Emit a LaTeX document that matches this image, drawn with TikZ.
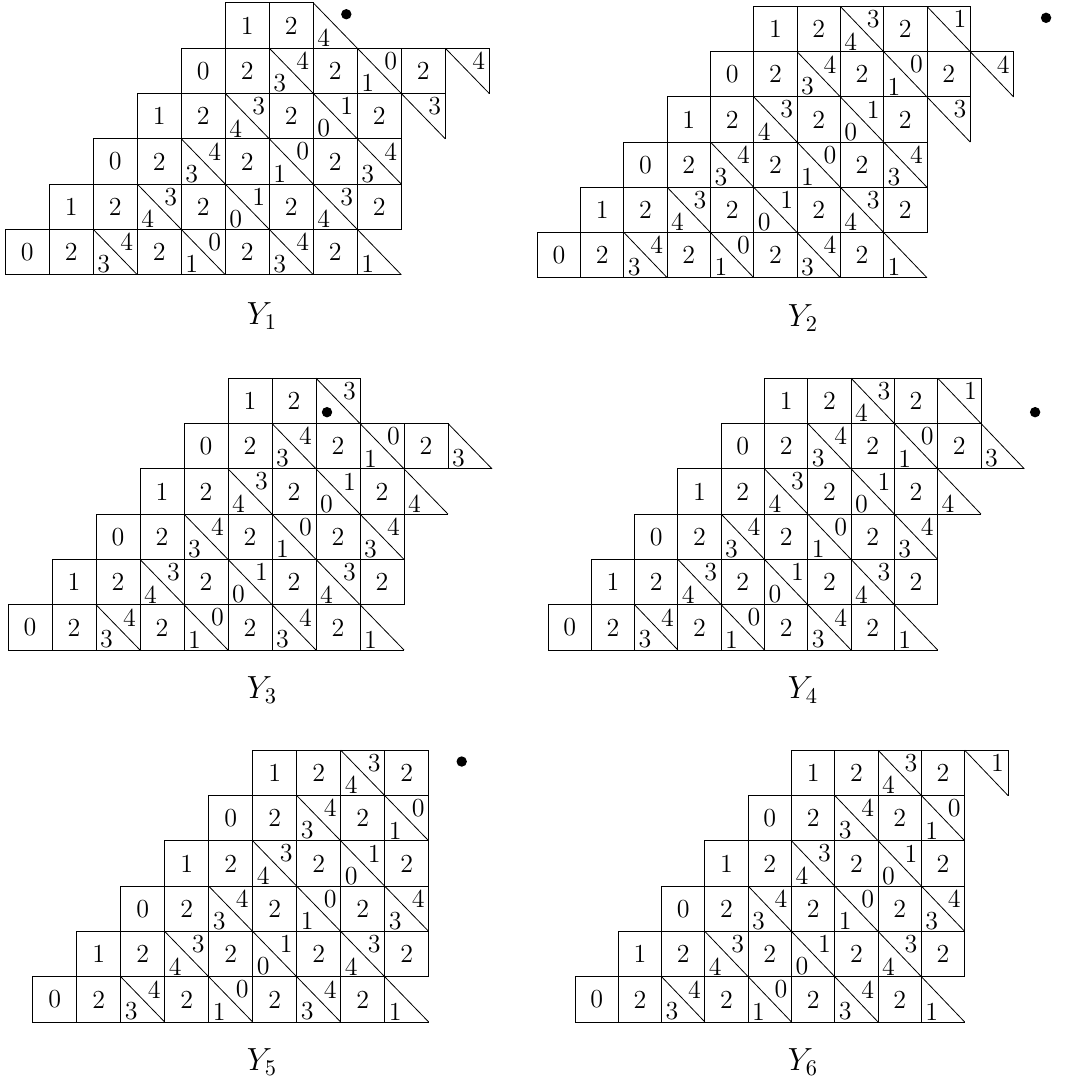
\RequirePackage{fix-cm}
\documentclass[tikz,border=0pt]{standalone}
\newcommand{\ycN}[3]{%
  \draw[cellline] (#1,#2) rectangle ++(1,1);
  \node[lab] (\pn-#1-#2) at (#1+0.5,#2+0.5) {#3};}
\newcommand{\ycS}[4]{%
  \draw[cellline] (#1,#2) rectangle ++(1,1);
  \draw[diagline] (#1,#2+1) -- (#1+1,#2);
  \node[lab] (\pn-#1-#2-a) at (#1+0.24,#2+0.23) {#3};
  \node[lab] (\pn-#1-#2-b) at (#1+0.76,#2+0.72) {#4};}
\newcommand{\ycL}[3]{%
  \draw[cellline] (#1,#2+1) -- (#1,#2) -- (#1+1,#2);
  \draw[diagline] (#1,#2+1) -- (#1+1,#2);
  \node[lab] (\pn-#1-#2-a) at (#1+0.24,#2+0.23) {#3};}
\newcommand{\ycU}[3]{%
  \draw[cellline] (#1,#2+1) -- (#1+1,#2+1) -- (#1+1,#2);
  \draw[diagline] (#1,#2+1) -- (#1+1,#2);
  \node[lab] (\pn-#1-#2-b) at (#1+0.76,#2+0.72) {#3};}
\newcommand{\ycBase}{%
  \ycN{0}{0}{0}\ycN{1}{0}{2}\ycS{2}{0}{3}{4}\ycN{3}{0}{2}\ycS{4}{0}{1}{0}%
  \ycN{5}{0}{2}\ycS{6}{0}{3}{4}\ycN{7}{0}{2}\ycL{8}{0}{1}%
  \ycN{1}{1}{1}\ycN{2}{1}{2}\ycS{3}{1}{4}{3}\ycN{4}{1}{2}\ycS{5}{1}{0}{1}%
  \ycN{6}{1}{2}\ycS{7}{1}{4}{3}\ycN{8}{1}{2}%
  \ycN{2}{2}{0}\ycN{3}{2}{2}\ycS{4}{2}{3}{4}\ycN{5}{2}{2}\ycS{6}{2}{1}{0}%
  \ycN{7}{2}{2}\ycS{8}{2}{3}{4}%
  \ycN{3}{3}{1}\ycN{4}{3}{2}\ycS{5}{3}{4}{3}\ycN{6}{3}{2}\ycS{7}{3}{0}{1}\ycN{8}{3}{2}%
  \ycN{4}{4}{0}\ycN{5}{4}{2}\ycS{6}{4}{3}{4}\ycN{7}{4}{2}\ycS{8}{4}{1}{0}%
  \ycN{5}{5}{1}\ycN{6}{5}{2}}
\newcommand{\ycTopFull}{\ycS{7}{5}{4}{3}\ycN{8}{5}{2}}
\begin{document}
\begin{tikzpicture}[
  cellline/.style={line width=0.5pt},
  diagline/.style={line width=0.4pt},
  lab/.style={inner sep=0pt, font=\fontsize{13}{15}\selectfont},
  captext/.style={inner sep=0pt, font=\fontsize{16}{19}\selectfont},
  dotmark/.style={fill=black}
]
\useasboundingbox (0pt,0pt) rectangle (539pt,-542pt);

% Y1
\def\pn{a}
\begin{scope}[shift={(2.65pt,-137.35pt)}, x={(22pt,0pt)}, y={(0pt,22.65pt)}]
  \ycBase
  \ycU{9}{3}{3}
  \ycN{9}{4}{2}\ycU{10}{4}{4}
  \ycL{7}{5}{4}
  \fill[dotmark] (7.75,5.75) circle (2.6pt);
\end{scope}

% Y2
\def\pn{b}
\begin{scope}[shift={(268.65pt,-138.85pt)}, x={(21.65pt,0pt)}, y={(0pt,22.6pt)}]
  \ycBase
  \ycU{9}{3}{3}
  \ycN{9}{4}{2}\ycU{10}{4}{4}
  \ycTopFull\ycU{9}{5}{1}
  \fill[dotmark] (11.75,5.75) circle (2.6pt);
\end{scope}

% Y3
\def\pn{c}
\begin{scope}[shift={(4pt,-325pt)}, x={(22pt,0pt)}, y={(0pt,22.65pt)}]
  \ycBase
  \ycL{9}{3}{4}
  \ycN{9}{4}{2}\ycL{10}{4}{3}
  \ycU{7}{5}{3}
  \fill[dotmark] (7.25,5.25) circle (2.6pt);
\end{scope}

% Y4
\def\pn{d}
\begin{scope}[shift={(274pt,-325pt)}, x={(21.65pt,0pt)}, y={(0pt,22.65pt)}]
  \ycBase
  \ycL{9}{3}{4}
  \ycN{9}{4}{2}\ycL{10}{4}{3}
  \ycTopFull\ycU{9}{5}{1}
  \fill[dotmark] (11.25,5.25) circle (2.6pt);
\end{scope}

% Y5
\def\pn{e}
\begin{scope}[shift={(16.35pt,-511pt)}, x={(22pt,0pt)}, y={(0pt,22.65pt)}]
  \ycBase
  \ycTopFull
  \fill[dotmark] (9.75,5.75) circle (2.6pt);
\end{scope}

% Y6
\def\pn{f}
\begin{scope}[shift={(287.5pt,-511pt)}, x={(21.65pt,0pt)}, y={(0pt,22.65pt)}]
  \ycBase
  \ycTopFull\ycU{9}{5}{1}
\end{scope}

% captions
\node[captext] (capA) at (131pt,-158pt) {$Y_1$};
\node[captext] (capB) at (401.5pt,-159pt) {$Y_2$};
\node[captext] (capC) at (131pt,-345pt) {$Y_3$};
\node[captext] (capD) at (401.5pt,-345pt) {$Y_4$};
\node[captext] (capE) at (131pt,-531pt) {$Y_5$};
\node[captext] (capF) at (401.5pt,-531pt) {$Y_6$};
\end{tikzpicture}
\end{document}
